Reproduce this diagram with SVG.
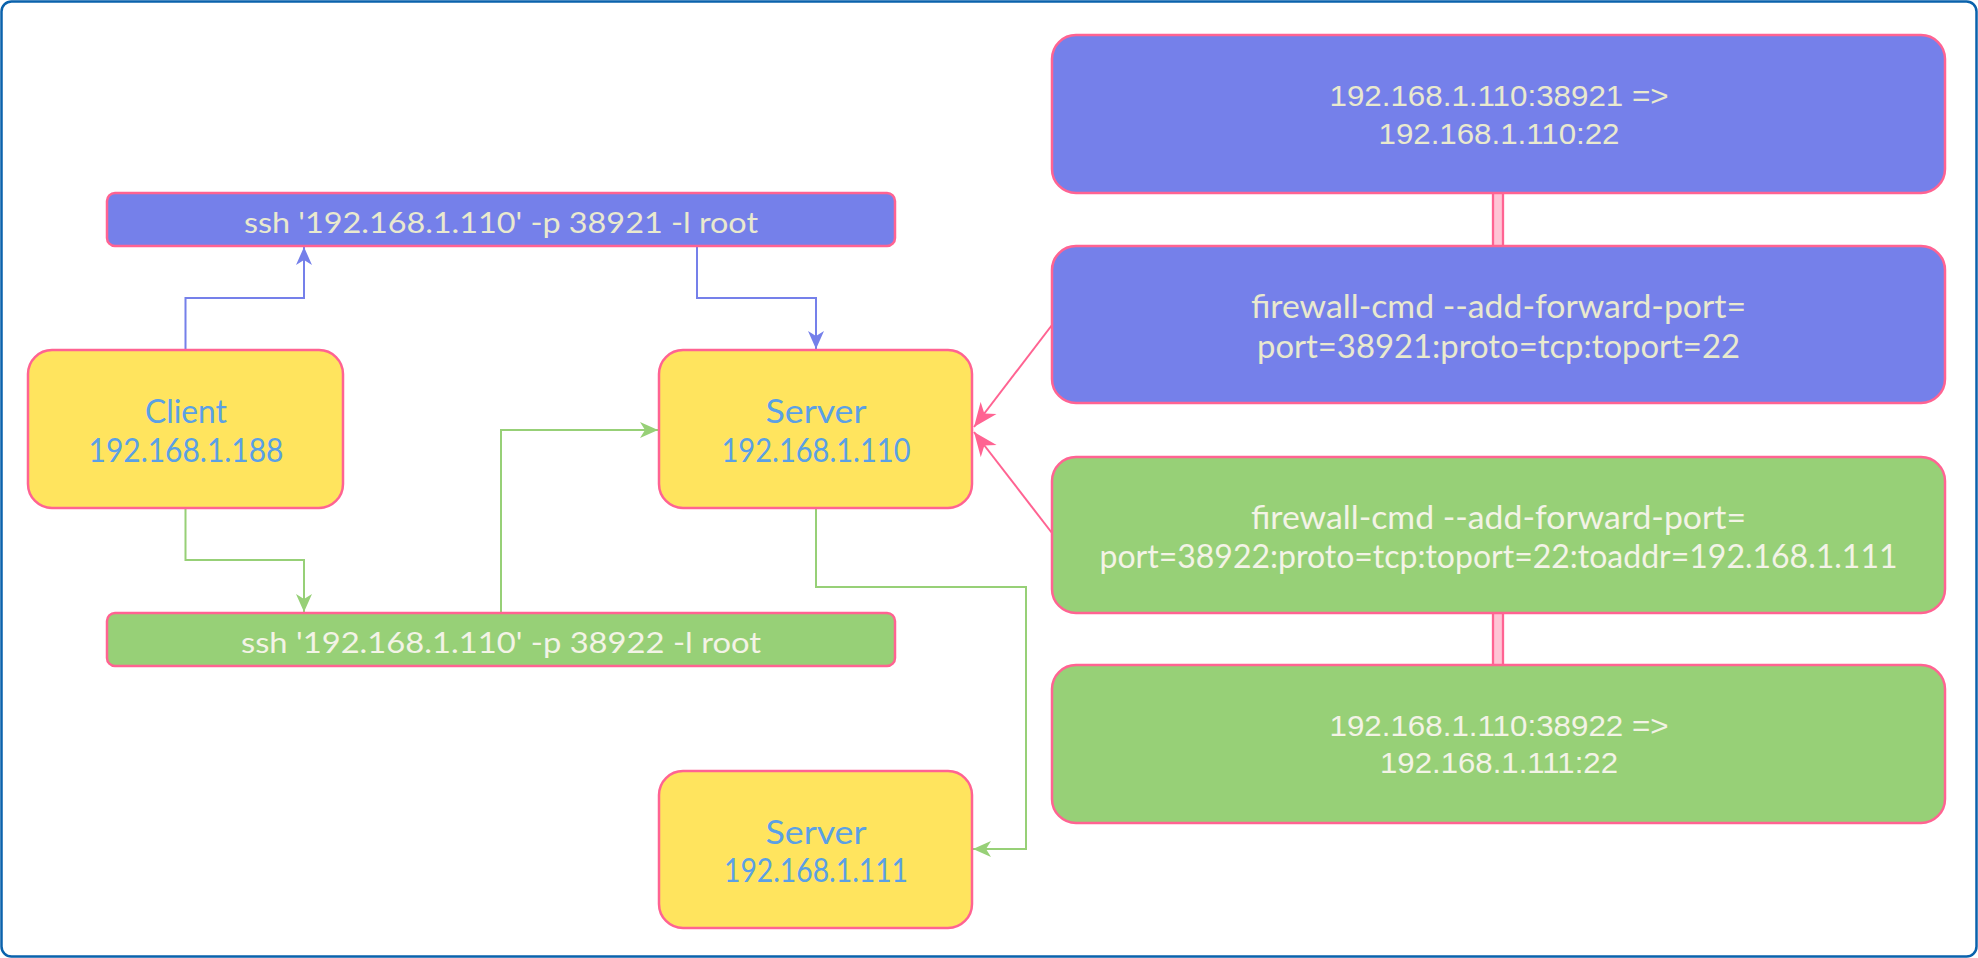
<svg xmlns="http://www.w3.org/2000/svg" width="1978" height="958" viewBox="0 0 1978 958">
<style>
.box{stroke:#FF6392;stroke-width:2.5}
.yel{fill:#FFE45E}
.blu{fill:#7580EA}
.grn{fill:#97D077}
.lbl{font-family:Lato,"DejaVu Sans",sans-serif;text-anchor:middle}
.adr{font-family:"Liberation Sans",Arial,sans-serif;text-anchor:middle;font-size:30px}
.node{fill:#5AA0E6;font-size:32px}
.ct{fill:#E9E9CE}
.cg{fill:#F3F3E6}
.con{fill:none;stroke-width:2}
.dbl{fill:#FFC4D5;stroke:#FF6392;stroke-width:2.3}
</style>
<defs>
<marker id="mb" markerUnits="userSpaceOnUse" markerWidth="20" markerHeight="18" refX="18" refY="8" orient="auto" viewBox="0 0 20 16"><path d="M18,8 L0,0 L5,8 L0,16 Z" fill="#7580EA"/></marker>
<marker id="mg" markerUnits="userSpaceOnUse" markerWidth="20" markerHeight="18" refX="18" refY="8" orient="auto" viewBox="0 0 20 16"><path d="M18,8 L0,0 L5,8 L0,16 Z" fill="#97D077"/></marker>
<marker id="mp" markerUnits="userSpaceOnUse" markerWidth="26" markerHeight="22" refX="24" refY="10" orient="auto" viewBox="0 0 26 20"><path d="M24,10 L0,0 L7,10 L0,20 Z" fill="#FF6392"/></marker>
</defs>
<rect x="1.5" y="1.5" width="1975" height="955" rx="10" fill="#FFFFFF" stroke="#0A62AC" stroke-width="2.5"/>
<g id="connectors">
<path class="con" stroke="#7580EA" d="M185.5,350 V298 H304 V247" marker-end="url(#mb)"/>
<path class="con" stroke="#7580EA" d="M697,246 V298 H816 V349" marker-end="url(#mb)"/>
<path class="con" stroke="#97D077" d="M185.5,508 V560 H304 V612" marker-end="url(#mg)"/>
<path class="con" stroke="#97D077" d="M501,613 V430 H658" marker-end="url(#mg)"/>
<path class="con" stroke="#97D077" d="M816,508 V587 H1026 V849 H973" marker-end="url(#mg)"/>
<path class="con" stroke="#FF6392" stroke-width="2.5" d="M1052,325 L974,427" marker-end="url(#mp)"/>
<path class="con" stroke="#FF6392" stroke-width="2.5" d="M1052,533 L974,432" marker-end="url(#mp)"/>
<rect class="dbl" x="1493" y="192" width="10" height="55"/>
<rect class="dbl" x="1493" y="612" width="10" height="55"/>
</g>
<g id="ssh1">
<rect class="box blu" x="107" y="193" width="788" height="53" rx="8"/>
<text class="lbl ct" x="501" y="233" font-size="28" textLength="514" lengthAdjust="spacingAndGlyphs">ssh '192.168.1.110' -p 38921 -l root</text>
</g>
<g id="ssh2">
<rect class="box grn" x="107" y="613" width="788" height="53" rx="8"/>
<text class="lbl cg" x="501" y="653" font-size="28" textLength="520" lengthAdjust="spacingAndGlyphs">ssh '192.168.1.110' -p 38922 -l root</text>
</g>
<g id="client">
<rect class="box yel" x="28" y="350" width="315" height="158" rx="24"/>
<text class="lbl node" x="186" y="423" textLength="82" lengthAdjust="spacingAndGlyphs">Client</text>
<text class="lbl node" x="186" y="462" textLength="195" lengthAdjust="spacingAndGlyphs">192.168.1.188</text>
</g>
<g id="server110">
<rect class="box yel" x="659" y="350" width="313" height="158" rx="24"/>
<text class="lbl node" x="816" y="423" textLength="101" lengthAdjust="spacingAndGlyphs">Server</text>
<text class="lbl node" x="816" y="462" textLength="189" lengthAdjust="spacingAndGlyphs">192.168.1.110</text>
</g>
<g id="server111">
<rect class="box yel" x="659" y="771" width="313" height="157" rx="24"/>
<text class="lbl node" x="816" y="844" textLength="101" lengthAdjust="spacingAndGlyphs">Server</text>
<text class="lbl node" x="816" y="882" textLength="184" lengthAdjust="spacingAndGlyphs">192.168.1.111</text>
</g>
<g id="rule1">
<rect class="box blu" x="1052" y="35" width="893" height="158" rx="24"/>
<text class="adr ct" x="1499" y="106" textLength="339" lengthAdjust="spacingAndGlyphs">192.168.1.110:38921 =&gt;</text>
<text class="adr ct" x="1499" y="144" textLength="241" lengthAdjust="spacingAndGlyphs">192.168.1.110:22</text>
</g>
<g id="cmd1">
<rect class="box blu" x="1052" y="246" width="893" height="157" rx="24"/>
<text class="lbl ct" x="1498.5" y="318" font-size="32" textLength="495" lengthAdjust="spacingAndGlyphs">firewall-cmd --add-forward-port=</text>
<text class="lbl ct" x="1498.5" y="358" font-size="32" textLength="483" lengthAdjust="spacingAndGlyphs">port=38921:proto=tcp:toport=22</text>
</g>
<g id="cmd2">
<rect class="box grn" x="1052" y="457" width="893" height="156" rx="24"/>
<text class="lbl cg" x="1498.5" y="529" font-size="32" textLength="495" lengthAdjust="spacingAndGlyphs">firewall-cmd --add-forward-port=</text>
<text class="lbl cg" x="1498.5" y="568" font-size="32" textLength="798" lengthAdjust="spacingAndGlyphs">port=38922:proto=tcp:toport=22:toaddr=192.168.1.111</text>
</g>
<g id="rule2">
<rect class="box grn" x="1052" y="665" width="893" height="158" rx="24"/>
<text class="adr cg" x="1499" y="736" textLength="339" lengthAdjust="spacingAndGlyphs">192.168.1.110:38922 =&gt;</text>
<text class="adr cg" x="1499" y="773" textLength="238" lengthAdjust="spacingAndGlyphs">192.168.1.111:22</text>
</g>
</svg>
